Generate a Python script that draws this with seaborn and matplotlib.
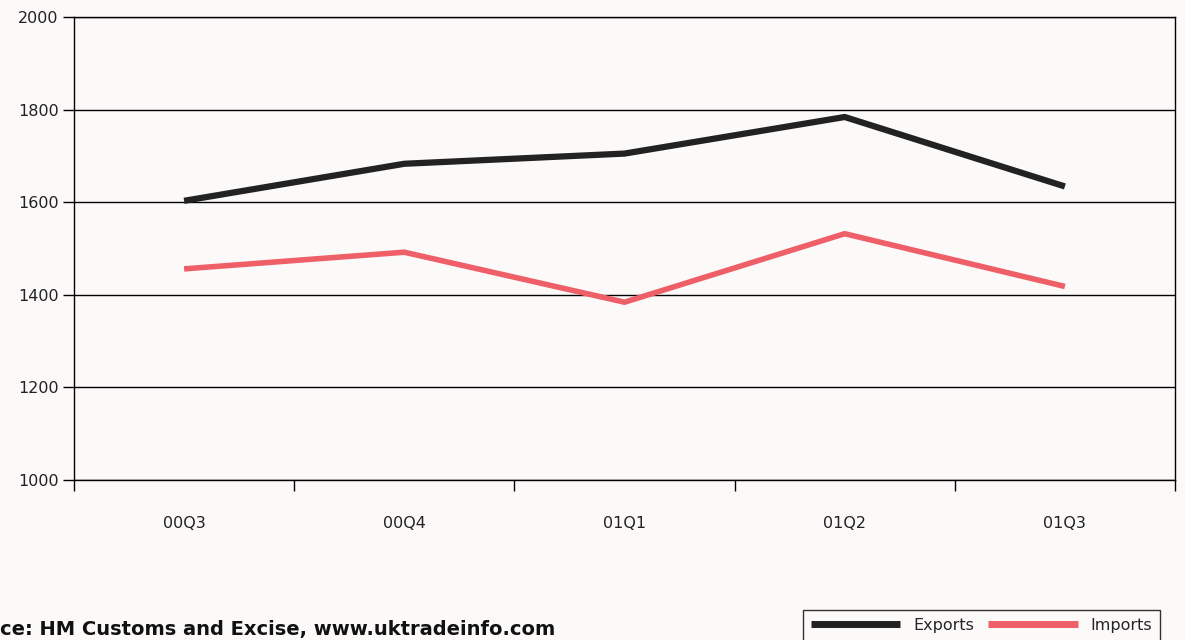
import pandas as pd
import seaborn as sns
import matplotlib.pyplot as plt
from matplotlib.ticker import FixedLocator

sns.set_theme(style="white")
plt.rcParams['font.family'] = ['DejaVu Sans']

quarters = ['00Q3', '00Q4', '01Q1', '01Q2', '01Q3']
exports = [1603, 1683, 1705, 1784, 1634]
imports = [1456, 1492, 1384, 1532, 1418]
y_ticks = [1000, 1200, 1400, 1600, 1800, 2000]

df = pd.DataFrame({
    'quarter': quarters * 2,
    'value': exports + imports,
    'series': ['Exports'] * len(quarters) + ['Imports'] * len(quarters),
})

bg = '#fcf9f9'
fig = plt.figure(figsize=(11.85, 6.4), dpi=100, facecolor=bg)
ax = fig.add_axes([74 / 1185, 1 - 480 / 640, 1101 / 1185, 463 / 640])
ax.set_facecolor(bg)

ax = sns.lineplot(data=df, x='quarter', y='value', hue='series',
                  palette={'Exports': '#222222', 'Imports': '#ef5f68'},
                  linewidth=4.5, sort=False, ax=ax)
ax.lines[1].set_linewidth(4)
for ln in ax.lines:
    ln.set_solid_capstyle('butt')

ax.set_xlim(-0.5, len(quarters) - 0.5)
ax.set_ylim(1000, 2000)
ax.set_yticks(y_ticks)
ax.yaxis.grid(True, color='black', linewidth=1)
ax.set_axisbelow(True)
ax.set_xlabel('')
ax.set_ylabel('')

# boundary ticks between categories
ax.xaxis.set_minor_locator(FixedLocator([i - 0.5 for i in range(len(quarters) + 1)]))
ax.tick_params(axis='x', which='major', length=0, pad=26, labelsize=11.5, colors='#222222')
ax.tick_params(axis='x', which='minor', bottom=True, length=8, width=1, color='black', direction='out')
ax.tick_params(axis='y', left=True, length=8, width=1, color='black', pad=3,
               labelsize=11.5, labelcolor='#222222', direction='out')

for side in ['left', 'bottom', 'right', 'top']:
    ax.spines[side].set_visible(True)
    ax.spines[side].set_color('black')
    ax.spines[side].set_linewidth(1)

leg = ax.legend(loc='upper right', bbox_to_anchor=(1168 / 1185, 1 - 602 / 640),
                bbox_transform=fig.transFigure, ncol=2, frameon=True,
                fontsize=11.5, handlelength=5.6, handletextpad=0.8,
                columnspacing=0.9, borderpad=0.5, fancybox=False)
leg.get_frame().set_edgecolor('black')
leg.get_frame().set_linewidth(1)
leg.get_frame().set_facecolor(bg)
for h in leg.get_lines():
    h.set_linewidth(5)
    h.set_solid_capstyle('butt')

fig.text(0.0, 1 - 629 / 640, 'ce: HM Customs and Excise, www.uktradeinfo.com',
         fontsize=14, fontweight='bold', color='#111111', va='center', ha='left')

fig.savefig('out.png', dpi=100, facecolor=bg)
